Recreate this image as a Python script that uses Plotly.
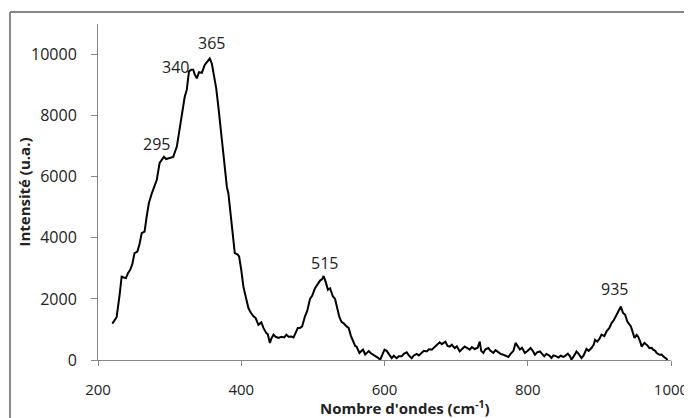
import plotly.graph_objects as go

wavenumber = [220, 224, 226, 230, 233, 236, 239, 242, 245, 248, 251, 255, 258, 261, 265, 268, 271, 275, 279, 282,
              286, 289, 292, 295, 298, 302, 305, 308, 310, 313, 317, 321, 324, 327, 330, 333, 335, 338, 341, 345,
              349, 353, 356, 359, 362, 365, 368, 370, 373, 376, 378, 380, 382, 386, 391, 395, 397, 400, 403, 407,
              410, 413, 417, 420, 424, 428, 431, 435, 437, 440, 442, 445, 448, 452, 456, 460, 463, 466, 470, 473,
              476, 479, 482, 485, 489, 492, 496, 499, 503, 506, 510, 513, 515, 518, 521, 524, 528, 531, 534, 537,
              540, 543, 547, 550, 553, 556, 559, 561, 565, 568, 570, 573, 576, 578, 581, 584, 588, 591, 594, 597,
              600, 603, 605, 608, 610, 613, 617, 620, 624, 627, 631, 634, 638, 641, 645, 648, 652, 655, 659, 662,
              666, 670, 673, 677, 680, 682, 685, 688, 691, 694, 698, 701, 705, 708, 712, 715, 719, 722, 726, 730,
              733, 735, 738, 741, 745, 748, 752, 755, 759, 762, 766, 769, 773, 776, 780, 783, 786, 789, 792, 796,
              800, 804, 807, 810, 813, 817, 820, 823, 826, 830, 833, 836, 840, 843, 846, 850, 853, 856, 859, 861,
              865, 868, 871, 875, 878, 882, 885, 889, 892, 894, 897, 900, 903, 907, 910, 914, 917, 920, 923, 926,
              930, 933, 936, 939, 942, 944, 947, 949, 952, 954, 957, 959, 961, 963, 967, 970, 973, 975, 978, 980,
              984, 987, 989, 992, 994, 995]
intensity = [1190, 1350, 1400, 2100, 2730, 2700, 2680, 2850, 2950, 3150, 3500, 3550, 3800, 4150, 4200, 4700, 5130, 5450, 5670, 5890,
             6450, 6550, 6650, 6580, 6600, 6620, 6650, 6850, 6980, 7420, 7960, 8610, 8850, 9450, 9500, 9500, 9350, 9220, 9420, 9400,
             9660, 9800, 9870, 9700, 9350, 8900, 8300, 7850, 7000, 6500, 5900, 5650, 5460, 4500, 3500, 3450, 3390, 2950, 2400, 2000,
             1700, 1560, 1430, 1380, 1150, 1230, 1050, 880, 850, 560, 700, 830, 760, 720, 760, 740, 830, 760, 770, 740,
             900, 1050, 1050, 1100, 1430, 1600, 2000, 2100, 2350, 2450, 2600, 2650, 2750, 2550, 2300, 2350, 2080, 2000, 1650, 1400,
             1250, 1200, 1100, 1050, 800, 600, 460, 440, 230, 300, 340, 180, 260, 290, 220, 180, 120, 70, 10, 150,
             340, 300, 230, 120, 60, 140, 60, 120, 120, 200, 250, 150, 60, 150, 200, 150, 250, 300, 280, 350,
             340, 440, 500, 580, 520, 560, 600, 460, 440, 500, 390, 450, 280, 350, 440, 400, 340, 420, 360, 400,
             600, 300, 230, 350, 390, 300, 230, 320, 250, 200, 170, 130, 100, 200, 300, 560, 450, 340, 400, 230,
             300, 390, 300, 170, 250, 280, 200, 120, 200, 150, 65, 150, 120, 80, 140, 100, 150, 210, 120, 10,
             150, 280, 200, 65, 150, 360, 300, 390, 500, 660, 600, 690, 830, 780, 940, 1050, 1210, 1300, 1430, 1550,
             1750, 1540, 1480, 1260, 1150, 1100, 880, 720, 820, 770, 600, 440, 500, 560, 480, 390, 400, 340, 300, 230,
             170, 180, 120, 80, 30, 0]

peak_labels = ["295", "340", "365", "515", "935"]
peak_label_x = [282, 308, 358.6, 515.6, 921.4]
peak_label_y = [7070, 9585, 10370, 3170, 2320]

x_ticks = [200, 400, 600, 800, 1000]
x_tick_text = ["200", "400", "600", "800", "1000"]
y_ticks = [0, 2000, 4000, 6000, 8000, 10000]
y_tick_text = ["0", "2000", "4000", "6000", "8000", "10000"]

x_title = "Nombre d'ondes (cm<sup>-1</sup>)"
y_title = "Intensité (u.a.)"

FONT = "Open Sans"
TXT = "#222222"

fig = go.Figure()
fig.add_trace(go.Scatter(x=wavenumber, y=intensity, mode="lines",
                         line=dict(color="black", width=2), showlegend=False))

for t, xx, yy in zip(peak_labels, peak_label_x, peak_label_y):
    fig.add_annotation(x=xx, y=yy, text=t, showarrow=False,
                       font=dict(family=FONT, size=16, color=TXT))

# axis titles placed as annotations for precise positioning
fig.add_annotation(xref="paper", yref="paper", x=0.535, y=-0.14,
                   xanchor="center", yanchor="middle", showarrow=False,
                   text="<b>" + x_title + "</b>",
                   font=dict(family=FONT, size=15, color=TXT))
fig.add_annotation(xref="paper", yref="paper", x=-0.13, y=0.5,
                   xanchor="center", yanchor="middle", showarrow=False,
                   textangle=-90, text="<b>" + y_title + "</b>",
                   font=dict(family=FONT, size=15, color=TXT))

# page body has an 8px default margin, so the figure is 8px smaller and shifted
fig.update_layout(
    width=684, height=410,
    margin=dict(l=90, r=21, t=16, b=58, autoexpand=False),
    paper_bgcolor="white", plot_bgcolor="white",
    font=dict(family=FONT, size=16, color=TXT),
    xaxis=dict(range=[200, 1000], tickvals=x_ticks, ticktext=x_tick_text,
               showgrid=False, zeroline=False, automargin=False,
               showline=True, linecolor="#868686", linewidth=1,
               ticks="outside", ticklen=5, tickcolor="#868686",
               tickfont=dict(family=FONT, size=15, color=TXT),
               ticklabelstandoff=11),
    yaxis=dict(range=[0, 11000], tickvals=y_ticks, ticktext=y_tick_text,
               showgrid=False, zeroline=False, automargin=False,
               showline=True, linecolor="#868686", linewidth=1,
               ticks="outside", ticklen=6, tickcolor="#868686",
               ticklabelstandoff=11),
)

# outer chart frame (top and left edges visible in the crop)
fig.add_shape(type="line", xref="paper", yref="paper",
              x0=-0.1536, x1=1.05, y0=1.0357, y1=1.0357,
              line=dict(color="#888888", width=2))
fig.add_shape(type="line", xref="paper", yref="paper",
              x0=-0.1536, x1=-0.1536, y0=1.0357, y1=-0.2,
              line=dict(color="#888888", width=2))

fig.write_html("out.html")
